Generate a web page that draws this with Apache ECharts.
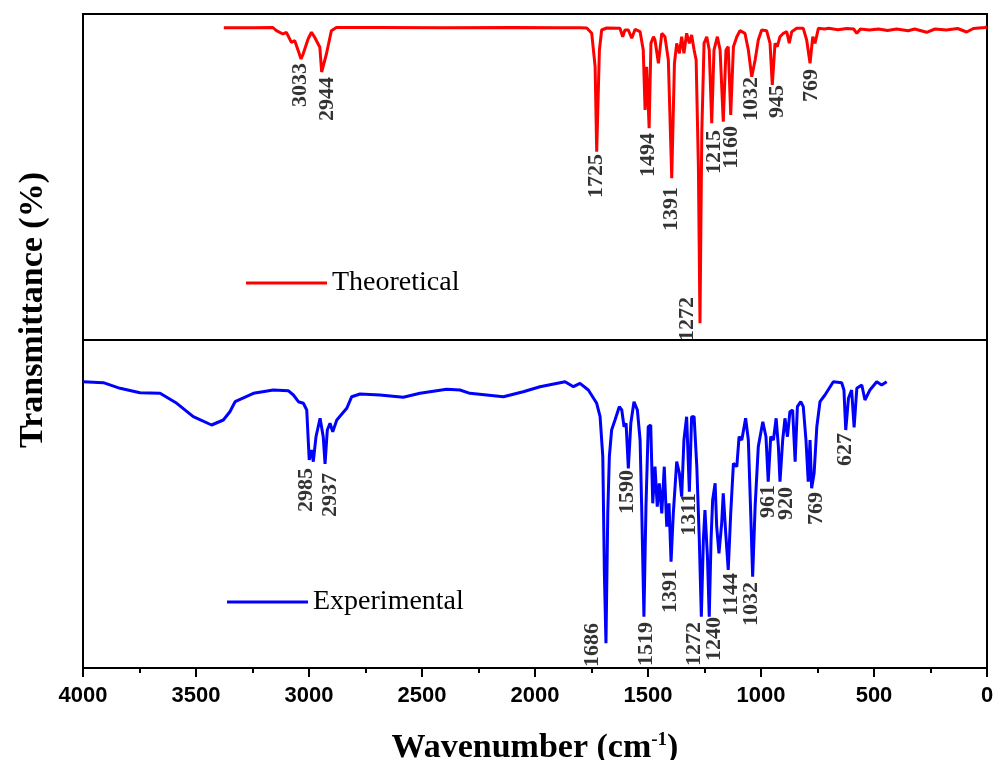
<!DOCTYPE html>
<html>
<head>
<meta charset="utf-8">
<script src="https://cdn.jsdelivr.net/npm/echarts@6/dist/echarts.min.js"></script>
<style>
  html, body { margin: 0; padding: 0; background: #fff; }
  #chart { width: 995px; height: 760px; }
</style>
</head>
<body>
<div id="chart"></div>
<script>
// ---- Data (wavenumber cm^-1, transmittance in arbitrary units) ----
const theoretical = [
  [3377, 312.3], [3250, 312.3], [3160, 312.5], [3144, 309.3], [3116, 306], [3100, 307.7], [3078, 297.7], [3063, 299.3],
  [3035, 281], [3026, 286], [3004, 301], [2989, 307.7], [2975, 302.7], [2952, 292.7], [2944, 268], [2923, 286],
  [2901, 309.3], [2879, 312.5], [2700, 312.5], [2400, 312.3], [2100, 312.5], [1900, 312.3], [1801, 312.3], [1771, 312],
  [1749, 306.7], [1734, 273.3], [1727, 188.3], [1715, 290], [1705, 310], [1683, 312], [1624, 311.7], [1612, 303.3],
  [1602, 310], [1587, 310], [1572, 301.7], [1557, 310.7], [1535, 308.3], [1521, 290], [1513, 230], [1506, 273.3],
  [1495, 211.7], [1487, 296.7], [1476, 303.3], [1469, 300], [1454, 276.7], [1439, 306.7], [1425, 303.3], [1410, 280],
  [1395, 161.7], [1383, 276.7], [1373, 296.7], [1361, 286.7], [1351, 303.3], [1341, 286.7], [1329, 306.7], [1317, 296.7],
  [1307, 305], [1296, 290], [1287, 280], [1277, 173.3], [1270, 16.7], [1262, 206.7], [1252, 296.7], [1240, 303.3],
  [1229, 290], [1218, 216.7], [1208, 290], [1193, 303.3], [1181, 290], [1167, 218.3], [1155, 290], [1145, 293.3],
  [1134, 225], [1122, 293.3], [1107, 303.3], [1093, 309.3], [1071, 306.7], [1056, 290], [1041, 263.3], [1026, 280],
  [1012, 300], [997, 310], [975, 309.3], [960, 296.7], [950, 255], [938, 296.7], [928, 293.3], [916, 303.3],
  [901, 306.7], [886, 308.3], [875, 296.7], [864, 308.3], [842, 311.7], [813, 311.7], [798, 300], [783, 276.7],
  [771, 303.3], [761, 296.7], [746, 311.7], [720, 311], [700, 311.7], [660, 310.3], [620, 311.5], [590, 311],
  [576, 306.7], [560, 311], [520, 310], [480, 311], [440, 309.5], [400, 311], [349, 309.3], [320, 311],
  [267, 307.7], [230, 311], [180, 310], [130, 311.5], [90, 308], [60, 311.5], [10, 312.5], [0, 313]
];

const experimental = [
  [4000, 286.3], [3910, 285.3], [3836, 279.7], [3748, 275.3], [3659, 274.7], [3585, 264.7], [3512, 251.3], [3431, 243],
  [3379, 248], [3350, 256.3], [3327, 266.3], [3246, 274.7], [3158, 278], [3092, 277.3], [3069, 273], [3047, 266.3],
  [3025, 264.7], [3010, 258], [2999, 208], [2988, 218], [2981, 206.3], [2969, 231.3], [2951, 249.7], [2937, 231.3],
  [2929, 204], [2919, 238], [2907, 244.7], [2895, 236.3], [2877, 248], [2833, 259.7], [2811, 271.3], [2774, 274],
  [2686, 273], [2583, 270.7], [2509, 274.7], [2391, 278.7], [2332, 278], [2288, 274.7], [2140, 271.3], [2052, 276.3],
  [1978, 281.3], [1867, 286.3], [1830, 281.3], [1801, 284.7], [1764, 278], [1727, 264.7], [1712, 251.3], [1700, 211.3],
  [1693, 94.7], [1686, 24.7], [1678, 154.7], [1671, 211.3], [1661, 238], [1646, 248], [1627, 261.3], [1616, 258],
  [1606, 241.3], [1597, 244.7], [1587, 199.7], [1576, 244.7], [1562, 266.3], [1547, 258], [1535, 228], [1528, 161.3],
  [1518, 51.3], [1509, 161.3], [1499, 241.3], [1488, 243], [1479, 164.7], [1469, 201.3], [1459, 161.3], [1450, 184.7],
  [1439, 154.7], [1428, 201.3], [1417, 141.3], [1407, 164.7], [1398, 106.3], [1388, 154.7], [1373, 206.3], [1361, 194.7],
  [1351, 171.3], [1341, 228], [1329, 251.3], [1317, 176.3], [1307, 251.3], [1296, 251.3], [1284, 201.3], [1273, 128],
  [1264, 51.3], [1255, 128], [1248, 158], [1237, 111.3], [1229, 51.3], [1221, 128], [1214, 168], [1203, 184.7],
  [1196, 141.3], [1186, 114.7], [1174, 144.7], [1167, 174.7], [1156, 134.7], [1145, 98], [1134, 154.7], [1122, 204.7],
  [1107, 201.3], [1097, 231.3], [1085, 228], [1068, 249.7], [1056, 228], [1045, 151.3], [1037, 91.3], [1026, 161.3],
  [1012, 221.3], [992, 246.3], [978, 231.3], [968, 186.3], [957, 231.3], [945, 228], [933, 249.7], [923, 221.3],
  [916, 186.3], [904, 228], [894, 249.7], [883, 231.3], [872, 256.3], [860, 258], [849, 206.3], [839, 261.3],
  [824, 266.3], [813, 261.3], [801, 228], [791, 186.3], [783, 228], [776, 179.7], [765, 194.7], [753, 241.3],
  [739, 266.3], [717, 273], [680, 286.3], [643, 285.3], [633, 278], [625, 238], [613, 269.7], [599, 278],
  [588, 240.7], [576, 279.7], [554, 283], [540, 268], [518, 278], [488, 286.3], [466, 283], [444, 286.3]
];

// Peak labels: [wavenumber anchor, value anchor (top end of text), label]
const theoPeakLabels = [
  [3040, 277, '3033'], [2918, 263, '2944'], [1727, 186, '1725'], [1497, 207, '1494'],
  [1397, 153, '1391'], [1327, 43, '1272'], [1208, 210, '1215'], [1133, 214, '1160'],
  [1044, 263, '1032'], [929, 255, '945'], [779, 271, '769']
];
const expPeakLabels = [
  [3013, 200, '2985'], [2907, 195, '2937'], [1748, 45, '1686'], [1591, 198, '1590'],
  [1509, 46, '1519'], [1403, 99, '1391'], [1318, 175, '1311'], [1296, 46, '1272'],
  [1206, 51, '1240'], [1133, 95, '1144'], [1042, 86, '1032'], [969, 183, '961'],
  [889, 181, '920'], [756, 176, '769'], [628, 235, '627']
];

const xTicks = { min: 0, max: 4000, interval: 500 };

const SERIF = "'Liberation Serif', 'Times New Roman', serif";
const SANS = "'Liberation Sans', Arial, sans-serif";

const chart = echarts.init(document.getElementById('chart'), null, { renderer: 'canvas' });

function labelSeries(data, idx) {
  return {
    type: 'scatter',
    xAxisIndex: idx, yAxisIndex: idx,
    data: data,
    symbolSize: 0,
    silent: true,
    z: 5,
    label: {
      show: true,
      position: [0, 0],
      rotate: 90,
      align: 'right',
      verticalAlign: 'middle',
      formatter: p => p.value[2],
      color: '#000',
      fontFamily: SERIF,
      fontWeight: 'bold',
      fontSize: 22
    }
  };
}

const option = {
  backgroundColor: '#fff',
  animation: false,
  grid: [
    { left: 83, right: 8, top: 14, height: 326, show: true, borderColor: '#000', borderWidth: 2, backgroundColor: 'transparent', outerBoundsMode: 'none', containLabel: false },
    { left: 83, right: 8, top: 340, height: 328, show: true, borderColor: '#000', borderWidth: 2, backgroundColor: 'transparent', outerBoundsMode: 'none', containLabel: false }
  ],
  legend: [
    {
      data: ['Theoretical'], left: 241, top: 264, icon: 'rect', itemWidth: 81, itemHeight: 3,
      textStyle: { fontFamily: SERIF, fontSize: 28, color: '#000' }, selectedMode: false
    },
    {
      data: ['Experimental'], left: 222, top: 583, icon: 'rect', itemWidth: 81, itemHeight: 3,
      textStyle: { fontFamily: SERIF, fontSize: 28, color: '#000' }, selectedMode: false
    }
  ],
  xAxis: [
    {
      gridIndex: 0, type: 'value', inverse: true, min: xTicks.min, max: xTicks.max, interval: xTicks.interval,
      show: false
    },
    {
      gridIndex: 1, type: 'value', inverse: true, min: xTicks.min, max: xTicks.max, interval: xTicks.interval,
      axisLine: { show: true, lineStyle: { color: '#000', width: 2 } },
      axisTick: { show: true, inside: false, length: 9, lineStyle: { color: '#000', width: 2 } },
      minorTick: { show: true, splitNumber: 2, length: 5, lineStyle: { color: '#000', width: 2 } },
      splitLine: { show: false },
      axisLabel: {
        color: '#000', fontFamily: SANS, fontWeight: 'bold', fontSize: 22, margin: 17,
        formatter: v => String(v)
      },
      name: 'Wavenumber (cm{sup|-1})',
      nameLocation: 'middle',
      nameGap: 63,
      nameTextStyle: {
        color: '#000', fontFamily: SERIF, fontWeight: 'bold', fontSize: 34,
        rich: { sup: { fontFamily: SERIF, fontWeight: 'bold', fontSize: 19, verticalAlign: 'top', padding: [0, 0, 15, 0] } }
      }
    }
  ],
  yAxis: [
    { gridIndex: 0, type: 'value', min: 0, max: 326, show: false },
    { gridIndex: 1, type: 'value', min: 0, max: 328, show: false }
  ],
  graphic: [
    {
      type: 'text', x: 33, y: 310, rotation: Math.PI / 2,
      style: {
        text: 'Transmittance (%)', textAlign: 'center', textVerticalAlign: 'middle',
        font: "bold 34px 'Liberation Serif', 'Times New Roman', serif", fill: '#000'
      }
    }
  ],
  series: [
    {
      name: 'Theoretical', type: 'line', xAxisIndex: 0, yAxisIndex: 0, data: theoretical,
      showSymbol: false, symbol: 'none', lineStyle: { color: '#ff0000', width: 3 }, itemStyle: { color: '#ff0000' }, z: 3
    },
    {
      name: 'Experimental', type: 'line', xAxisIndex: 1, yAxisIndex: 1, data: experimental,
      showSymbol: false, symbol: 'none', lineStyle: { color: '#0000ff', width: 3 }, itemStyle: { color: '#0000ff' }, z: 3
    },
    labelSeries(theoPeakLabels, 0),
    labelSeries(expPeakLabels, 1)
  ]
};

chart.setOption(option);
</script>
</body>
</html>
